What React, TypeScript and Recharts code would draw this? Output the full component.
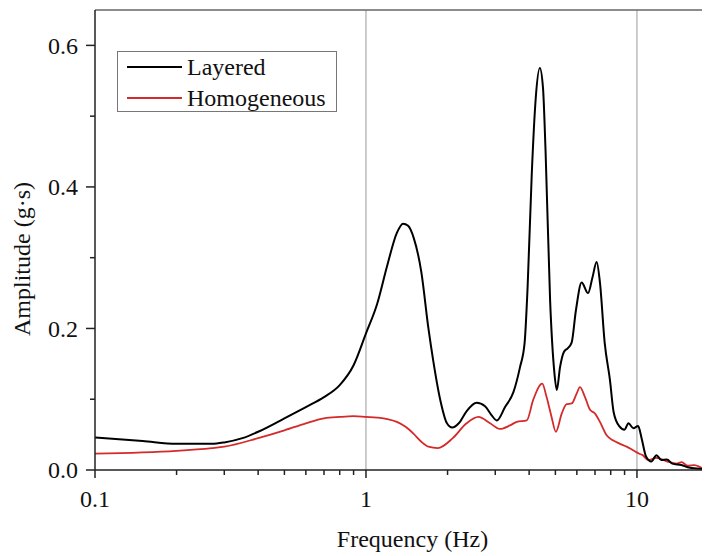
import { LineChart, Line, XAxis, YAxis, ReferenceLine, Legend } from 'recharts'

const layeredFreq = [
  0.1, 0.15, 0.2, 0.27, 0.3, 0.35, 0.4, 0.5, 0.6, 0.7, 0.8, 0.9, 1.0, 1.1, 1.2, 1.3, 1.37, 1.43, 1.5, 1.6,
  1.7, 1.77, 1.88, 1.99, 2.08, 2.2, 2.35, 2.56, 2.75, 2.9, 3.04, 3.26, 3.5, 3.7, 3.85, 3.95, 4.09, 4.23, 4.38,
  4.5, 4.6, 4.78, 4.95, 5.06, 5.2, 5.38, 5.55, 5.74, 5.95, 6.25, 6.6, 6.85, 7.1, 7.3, 7.6, 7.95, 8.2, 8.6, 9.0,
  9.3, 9.7, 10.1, 10.4, 10.8, 11.3, 11.8, 12.3, 12.9, 13.5, 14.6, 15.4, 16.6, 18.6,
]
const layeredAmp = [
  0.046, 0.041, 0.037, 0.037, 0.039, 0.045, 0.054, 0.073, 0.089, 0.103, 0.12, 0.148, 0.193, 0.235, 0.29, 0.335,
  0.348, 0.345, 0.328, 0.28, 0.2, 0.155, 0.099, 0.066, 0.06, 0.066, 0.083, 0.095, 0.09, 0.078, 0.07, 0.089, 0.11,
  0.145, 0.18, 0.26, 0.418, 0.525, 0.568, 0.54, 0.45, 0.24, 0.14, 0.113, 0.145, 0.167, 0.172, 0.18, 0.225, 0.265,
  0.25, 0.272, 0.294, 0.265, 0.18, 0.127, 0.082, 0.062, 0.057, 0.066, 0.059, 0.062, 0.045, 0.019, 0.012, 0.021,
  0.014, 0.015, 0.009, 0.007, 0.004, 0.002, 0.001,
]

const homoFreq = [
  0.1, 0.2, 0.27, 0.3, 0.4, 0.5, 0.6, 0.7, 0.8, 0.9, 1.0, 1.1, 1.2, 1.3, 1.4, 1.5, 1.6, 1.7, 1.84, 2.09, 2.35,
  2.6, 2.87, 3.12, 3.4, 3.6, 3.92, 4.14, 4.47, 4.64, 4.84, 5.02, 5.28, 5.5, 5.74, 5.99, 6.16, 6.43, 6.71, 6.99,
  7.3, 7.73, 8.15, 8.65, 9.16, 9.67, 10.2, 10.5, 10.98, 11.8, 12.95, 14.0, 14.62, 15.4, 16.3, 17.4, 18.6,
]
const homoAmp = [
  0.023, 0.027, 0.031, 0.033, 0.045, 0.056, 0.066, 0.073, 0.075, 0.076, 0.075, 0.074, 0.072, 0.068, 0.061, 0.051,
  0.04, 0.033, 0.031, 0.045, 0.066, 0.075, 0.066, 0.058, 0.063, 0.068, 0.07, 0.099, 0.122, 0.103, 0.075, 0.054,
  0.08, 0.093, 0.094, 0.108, 0.117, 0.103, 0.085, 0.08, 0.068, 0.049, 0.042, 0.037, 0.033, 0.028, 0.023, 0.021,
  0.014, 0.017, 0.012, 0.009, 0.011, 0.006, 0.007, 0.003, 0.001,
]

const xTicks = [0.1, 0.2, 0.3, 0.4, 0.5, 0.6, 0.7, 0.8, 0.9, 1, 2, 3, 4, 5, 6, 7, 8, 9, 10]
const xMajor = [0.1, 1, 10]
const yTicks = [0, 0.1, 0.2, 0.3, 0.4, 0.5, 0.6]
const yMajor = [0, 0.2, 0.4, 0.6]

const layeredData = layeredFreq.map((f, i) => ({ freq: f, amp: layeredAmp[i] }))
const homoData = homoFreq.map((f, i) => ({ freq: f, amp: homoAmp[i] }))

const FONT = '"Liberation Serif", "Times New Roman", serif'
const AXIS = '#222'

function XTick({ x, y, payload }: any) {
  const major = xMajor.includes(payload.value)
  return (
    <g>
      <line x1={x} x2={x} y1={y} y2={y + (major ? 8 : 5)} stroke={AXIS} strokeWidth={1.5} />
      {major && (
        <text x={x} y={y + 37} textAnchor="middle" fontSize={24} fontFamily={FONT} fill="#111">
          {payload.value}
        </text>
      )}
    </g>
  )
}

function YTick({ x, y, payload }: any) {
  const major = yMajor.includes(payload.value)
  return (
    <g>
      <line x1={x} x2={x - (major ? 9 : 5)} y1={y} y2={y} stroke={AXIS} strokeWidth={1.5} />
      {major && (
        <text x={x - 17} y={y} dy="0.35em" textAnchor="end" fontSize={24} fontFamily={FONT} fill="#111">
          {payload.value.toFixed(1)}
        </text>
      )}
    </g>
  )
}

function LegendBox() {
  const items = [
    { name: 'Layered', color: '#000' },
    { name: 'Homogeneous', color: '#d42a2a' },
  ]
  return (
    <div style={{ width: 218, height: 59, border: '1px solid #777', background: '#fff', fontFamily: FONT, fontSize: 24 }}>
      {items.map((it, i) => (
        <div key={it.name} style={{ position: 'absolute', left: 0, top: 2 + i * 31, height: 28, display: 'flex', alignItems: 'center' }}>
          <svg width={70} height={28}>
            <line x1={10} x2={65} y1={14} y2={14} stroke={it.color} strokeWidth={2} />
          </svg>
          <span style={{ color: '#111', lineHeight: '28px' }}>{it.name}</span>
        </div>
      ))}
    </div>
  )
}

export default function App() {
  return (
    <div style={{ width: 702, height: 548, position: 'relative' }}>
      <LineChart width={702} height={548} margin={{ top: 2, right: 0, left: 0, bottom: 0 }}>
        <XAxis
          dataKey="freq"
          type="number"
          scale="log"
          domain={[0.1, 18.6]}
          allowDataOverflow
          ticks={xTicks}
          interval={0}
          height={86}
          tickSize={0}
          tickMargin={0}
          tickLine={false}
          axisLine={{ stroke: AXIS, strokeWidth: 1.5 }}
          tick={<XTick />}
          label={{ value: 'Frequency (Hz)', position: 'insideBottom', offset: 9, dx: 10, fontSize: 24, fontFamily: FONT, fill: '#111' }}
        />
        <YAxis
          type="number"
          domain={[0, 0.65]}
          ticks={yTicks}
          interval={0}
          width={87}
          tickSize={0}
          tickMargin={0}
          tickLine={false}
          axisLine={{ stroke: AXIS, strokeWidth: 1.5 }}
          tick={<YTick />}
          label={{
            content: () => (
              <text
                x={14}
                y={251}
                transform="rotate(-90 14 251)"
                textAnchor="middle"
                dy="0.35em"
                fontSize={24}
                fontFamily={FONT}
                fill="#111"
              >
                Amplitude (g·s)
              </text>
            ),
          }}
        />
        <ReferenceLine x={1} stroke="#9a9a9a" strokeWidth={1} />
        <ReferenceLine x={10} stroke="#9a9a9a" strokeWidth={1} />
        <ReferenceLine y={0.65} stroke="#666" strokeWidth={1.5} />
        <Legend
          layout="vertical"
          align="center"
          verticalAlign="middle"
          wrapperStyle={{ left: 109, top: 43, width: 220, height: 61 }}
          content={() => <LegendBox />}
        />
        <Line data={homoData} dataKey="amp" name="Homogeneous" type="monotone" stroke="#d42a2a" strokeWidth={1.8} dot={false} isAnimationActive={false} />
        <Line data={layeredData} dataKey="amp" name="Layered" type="monotone" stroke="#000" strokeWidth={2} dot={false} isAnimationActive={false} />
      </LineChart>
    </div>
  )
}
